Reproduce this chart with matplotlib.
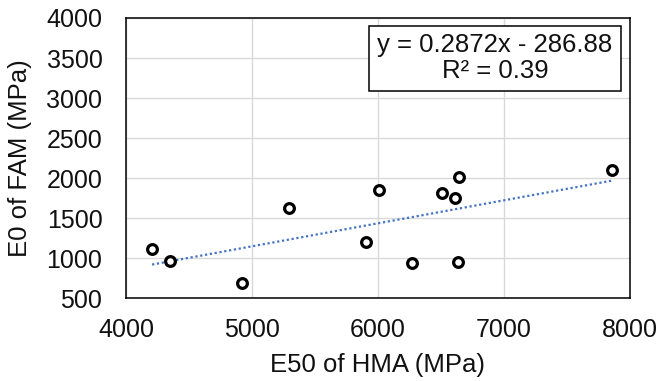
import matplotlib
matplotlib.use("Agg")
import matplotlib.pyplot as plt
from matplotlib.patches import Rectangle
import numpy as np

plt.rcParams['font.family'] = ['Liberation Sans', 'DejaVu Sans']

# Data
e50_hma = [4207, 4347, 4918, 5293, 5903, 6011, 6270, 6508, 6614, 6639, 6631, 7855]
e0_fam = [1117, 971, 692, 1633, 1204, 1854, 942, 1821, 1750, 2012, 958, 2104]

trend_slope = 0.2872
trend_intercept = -286.88
r_squared = 0.39

x_ticks = [4000, 5000, 6000, 7000, 8000]
y_ticks = [500, 1000, 1500, 2000, 2500, 3000, 3500, 4000]

fig = plt.figure(figsize=(6.6, 3.81), dpi=100)
ax = fig.add_axes([126/660, 1 - 298.3/381, (630 - 126)/660, (298.3 - 18)/381])

ax.set_xlim(4000, 8000)
ax.set_ylim(500, 4000)
ax.set_xticks(x_ticks)
ax.set_yticks(y_ticks)
ax.grid(True, color='#d9d9d9', linewidth=1.0)
ax.set_axisbelow(True)
for s in ax.spines.values():
    s.set_color('black')
    s.set_linewidth(1.1)
ax.tick_params(length=0, labelsize=18, pad=17, colors='#111111')
ax.tick_params(axis='x', pad=14)

# trendline
xt = np.array([min(e50_hma), max(e50_hma)])
ax.plot(xt, trend_slope * xt + trend_intercept, linestyle=(0, (1, 1.2)),
        color='#4472C4', linewidth=1.6, zorder=2)

ax.plot(e50_hma, e0_fam, linestyle='none', marker='o', markersize=7,
        markerfacecolor='white', markeredgecolor='black', markeredgewidth=2.3, zorder=3)

ax.set_xlabel('E50 of HMA (MPa)', fontsize=18.5, labelpad=8, color='#111111')
ax.set_ylabel('E0 of FAM (MPa)', fontsize=18.5, labelpad=10, color='#111111')

# equation box
bx0, bx1, by0, by1 = 0.482, 0.982, 0.740, 0.973
ax.add_patch(Rectangle((bx0, by0), bx1 - bx0, by1 - by0, transform=ax.transAxes,
                       facecolor='white', edgecolor='black', linewidth=1.1, zorder=5))
sign = '-' if trend_intercept < 0 else '+'
eq = f"y = {trend_slope:.4f}x {sign} {abs(trend_intercept):.2f}\nR² = {r_squared:.2f}"
ax.text((bx0 + bx1) / 2, (by0 + by1) / 2, eq, transform=ax.transAxes,
        ha='center', va='center', fontsize=18.5, linespacing=1.1, zorder=6, color='#111111')

fig.savefig('out.png', dpi=100)
